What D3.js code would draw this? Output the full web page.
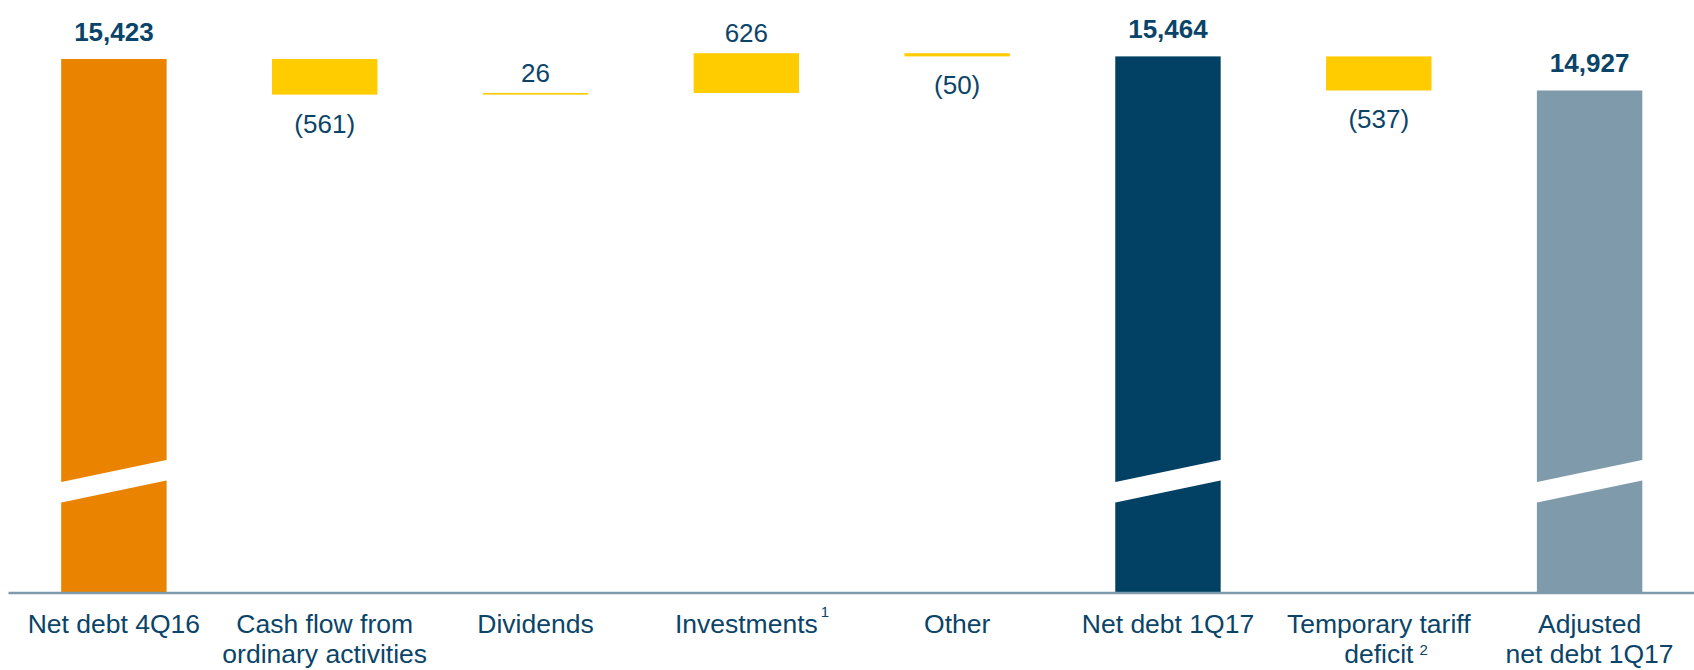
<!DOCTYPE html>
<html>
<head>
<meta charset="utf-8">
<script src="https://cdn.jsdelivr.net/npm/d3@7"></script>
<style>
  html, body { margin: 0; padding: 0; background: #ffffff; }
  svg { display: block; }
  text { font-family: "Liberation Sans", Arial, Helvetica, sans-serif; }
</style>
</head>
<body>
<svg id="chart" width="1694" height="670"></svg>
<script>
// Net debt bridge, EUR m
const categories = [
  "Net debt 4Q16",
  "Cash flow from\nordinary activities",
  "Dividends",
  "Investments",
  "Other",
  "Net debt 1Q17",
  "Temporary tariff\ndeficit",
  "Adjusted\nnet debt 1Q17"
];
const footnotes = ["", "", "", "1", "", "", "2", ""];
const values = [15423, -561, 26, 626, -50, 15464, -537, 14927];
const kinds = ["total", "delta", "delta", "delta", "delta", "total", "delta", "total"];
const valueLabels = ["15,423", "(561)", "26", "626", "(50)", "15,464", "(537)", "14,927"];
const totalColors = ["#E98300", "#024064", "#7F9BAB"];

const W = 1694, H = 670;
const baseY = 592;          // broken value axis sits here
const axisFloor = 7030;     // value mapped to the broken baseline
const textColor = "#0B4469";

const svg = d3.select("#chart");

const x = d3.scaleBand()
  .domain(categories)
  .range([8.5, 1695])
  .paddingInner(0.5)
  .paddingOuter(0.25);

const y = d3.scaleLinear()
  .domain([axisFloor, 15423])
  .range([baseY, 59]);

// running waterfall positions
let running = 0, totalIdx = 0;
const bars = categories.map((c, i) => {
  const v = values[i];
  let lo, hi, color;
  if (kinds[i] === "total") {
    running = v;
    lo = axisFloor; hi = v;
    color = totalColors[totalIdx++];
  } else {
    const start = running;
    running = start + v;
    lo = Math.min(start, running); hi = Math.max(start, running);
    color = "#FFCC00";
  }
  return { cat: c, i, v, lo, hi, color, kind: kinds[i], label: valueLabels[i] };
});

// bars
svg.append("g").selectAll("rect")
  .data(bars)
  .join("rect")
  .attr("x", d => x(d.cat))
  .attr("width", x.bandwidth())
  .attr("y", d => y(d.hi))
  .attr("height", d => Math.max(1.6, y(d.lo) - y(d.hi)))
  .attr("fill", d => d.color);

// slanted axis-break gaps on the total bars
const gapTop = baseY - 110, rise = 22, gapH = 20.5;
svg.append("g").selectAll("path")
  .data(bars.filter(d => d.kind === "total"))
  .join("path")
  .attr("fill", "#ffffff")
  .attr("d", d => {
    const x0 = x(d.cat) - 1, x1 = x(d.cat) + x.bandwidth() + 1;
    const k = rise / x.bandwidth();
    return `M${x0},${gapTop + k}L${x1},${gapTop - rise - k}` +
           `L${x1},${gapTop - rise - k + gapH}L${x0},${gapTop + k + gapH}Z`;
  });

// baseline
svg.append("line")
  .attr("x1", 8.5).attr("x2", W)
  .attr("y1", baseY + 1).attr("y2", baseY + 1)
  .attr("stroke", "#7F9BAB")
  .attr("stroke-width", 2.5);

// value labels
svg.append("g").selectAll("text")
  .data(bars)
  .join("text")
  .attr("x", d => x(d.cat) + x.bandwidth() / 2)
  .attr("y", d => {
    if (d.kind === "total") return y(d.hi) - 18;
    if (d.v >= 0) return y(d.hi) - 11;
    return y(d.lo) + 38;
  })
  .attr("text-anchor", "middle")
  .attr("font-size", 26)
  .attr("font-weight", d => d.kind === "total" ? "bold" : "normal")
  .attr("fill", textColor)
  .text(d => d.label);

// category labels
const catG = svg.append("g");
categories.forEach((c, i) => {
  const cx = x(c) + x.bandwidth() / 2;
  const lines = c.split("\n");
  const t = catG.append("text")
    .attr("text-anchor", "middle")
    .attr("font-size", 26.5)
    .attr("fill", textColor);
  lines.forEach((ln, j) => {
    t.append("tspan").attr("x", cx).attr("y", 633 + j * 29.5).text(ln);
  });
  if (footnotes[i]) {
    const last = t.selectAll("tspan").nodes().pop();
    const w = last.getComputedTextLength();
    const multi = lines.length > 1;
    const ly = 633 + (lines.length - 1) * 29.5;
    catG.append("text")
      .attr("x", cx + w / 2 + (multi ? 6 : 3))
      .attr("y", ly - (multi ? 8 : 16))
      .attr("font-size", 15)
      .attr("fill", textColor)
      .text(footnotes[i]);
  }
});
</script>
</body>
</html>
